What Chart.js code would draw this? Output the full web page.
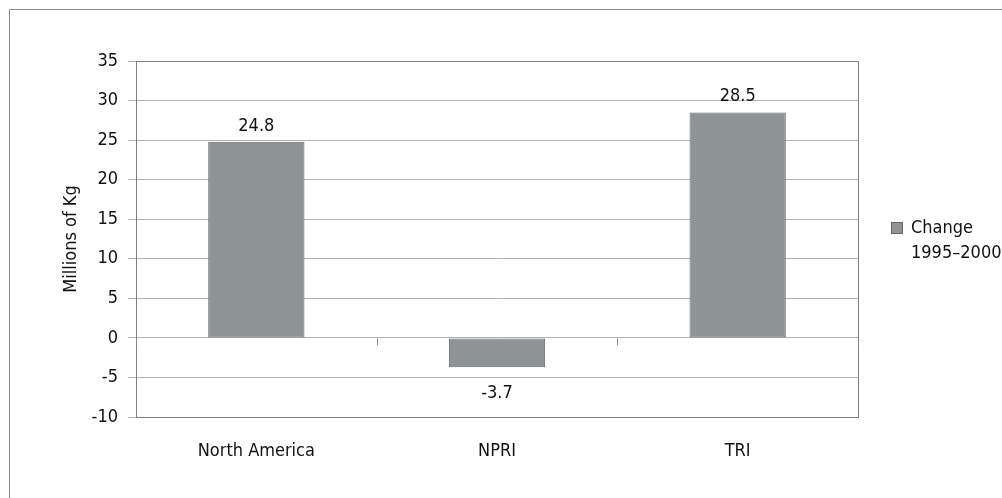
<!DOCTYPE html>
<html>
<head>
<meta charset="utf-8">
<script src="https://cdn.jsdelivr.net/npm/chart.js@4.4.1/dist/chart.umd.min.js"></script>
<style>
  html, body { margin: 0; padding: 0; background: #fff; }
  canvas { display: block; }
</style>
</head>
<body>
<canvas id="releases" width="1002" height="498"></canvas>
<script>
var categories = ["North America", "NPRI", "TRI"];
var changeValues = [24.8, -3.7, 28.5];
var seriesLabel = ["Change", "1995–2000"];
var yTicks = [-10, -5, 0, 5, 10, 15, 20, 25, 30, 35];
var yTitle = "Millions of Kg";

var FONT = "'DejaVu Sans Condensed', 'DejaVu Sans', sans-serif";
var TEXT = "#111111";
var BAR_FILL = "#8e9395";
var BAR_EDGE = "#666666";

Chart.defaults.font.family = FONT;
Chart.defaults.font.size = 18;
Chart.defaults.color = TEXT;

// page frame, plot box, category ticks on the zero line, value labels, legend
var decorations = {
  id: "decorations",
  beforeDraw: function (chart) {
    var ctx = chart.ctx;
    ctx.save();
    ctx.strokeStyle = "#8a8a8a";
    ctx.lineWidth = 1;
    ctx.beginPath();
    ctx.moveTo(9.5, chart.height);
    ctx.lineTo(9.5, 9.5);
    ctx.lineTo(chart.width, 9.5);
    ctx.stroke();
    ctx.restore();
  },
  afterDatasetsDraw: function (chart) {
    var ctx = chart.ctx;
    var area = chart.chartArea;
    var x = chart.scales.x;
    var y = chart.scales.y;

    ctx.save();
    ctx.strokeStyle = "#7f7f7f";
    ctx.lineWidth = 1;
    ctx.strokeRect(Math.round(area.left) + 0.5, Math.round(area.top) + 0.5,
      Math.round(area.right - area.left), Math.round(area.bottom - area.top));

    // boundary ticks hanging from the zero line
    var zero = Math.round(y.getPixelForValue(0)) + 0.5;
    var step = x.width / categories.length;
    ctx.strokeStyle = "#8a8a8a";
    ctx.beginPath();
    for (var i = 0; i <= categories.length; i++) {
      var px = Math.round(x.left + i * step) + 0.5;
      ctx.moveTo(px, zero);
      ctx.lineTo(px, zero + 7);
    }
    ctx.stroke();

    // value labels
    ctx.fillStyle = TEXT;
    ctx.font = "18px " + FONT;
    ctx.textAlign = "center";
    var meta = chart.getDatasetMeta(0);
    meta.data.forEach(function (bar, idx) {
      var v = changeValues[idx];
      if (v >= 0) {
        ctx.textBaseline = "alphabetic";
        ctx.fillText(v.toFixed(1), bar.x, bar.y - 11);
      } else {
        ctx.textBaseline = "middle";
        ctx.fillText(v.toFixed(1), bar.x, bar.y + 26);
      }
    });

    // legend
    var mid = (area.top + area.bottom) / 2;
    var lx = area.right + 33;
    var line1 = mid - 11;
    ctx.fillStyle = BAR_FILL;
    ctx.fillRect(lx, line1 - 6, 12, 12);
    ctx.strokeStyle = BAR_EDGE;
    ctx.strokeRect(lx + 0.5, line1 - 5.5, 11, 11);
    ctx.fillStyle = TEXT;
    ctx.textAlign = "left";
    ctx.textBaseline = "middle";
    seriesLabel.forEach(function (t, k) {
      ctx.fillText(t, lx + 20, line1 + k * 25);
    });
    ctx.restore();
  }
};

new Chart(document.getElementById("releases"), {
  type: "bar",
  data: {
    labels: categories,
    datasets: [{
      label: seriesLabel.join(" "),
      data: changeValues,
      backgroundColor: BAR_FILL,
      borderColor: BAR_EDGE,
      borderWidth: 1,
      borderSkipped: false,
      categoryPercentage: 1.0,
      barPercentage: 0.4
    }]
  },
  options: {
    responsive: false,
    animation: false,
    devicePixelRatio: 1,
    layout: { padding: { left: 57, top: 61, right: 144, bottom: 0 } },
    plugins: {
      legend: { display: false },
      tooltip: { enabled: false }
    },
    scales: {
      x: {
        grid: { display: false, drawTicks: false },
        border: { display: false },
        ticks: { padding: 24, color: TEXT, font: { size: 18 } },
        afterFit: function (s) { s.height = 81; }
      },
      y: {
        min: yTicks[0],
        max: yTicks[yTicks.length - 1],
        ticks: {
          stepSize: yTicks[1] - yTicks[0],
          padding: 10,
          color: TEXT,
          font: { size: 18 }
        },
        grid: { color: "#b3b3b3", tickLength: 8, drawTicks: true },
        border: { color: "#7f7f7f" },
        title: {
          display: true,
          text: yTitle,
          color: TEXT,
          font: { size: 18 },
          padding: { top: 4, bottom: 4 }
        },
        afterFit: function (s) { s.width = 79; }
      }
    }
  },
  plugins: [decorations]
});
</script>
</body>
</html>
